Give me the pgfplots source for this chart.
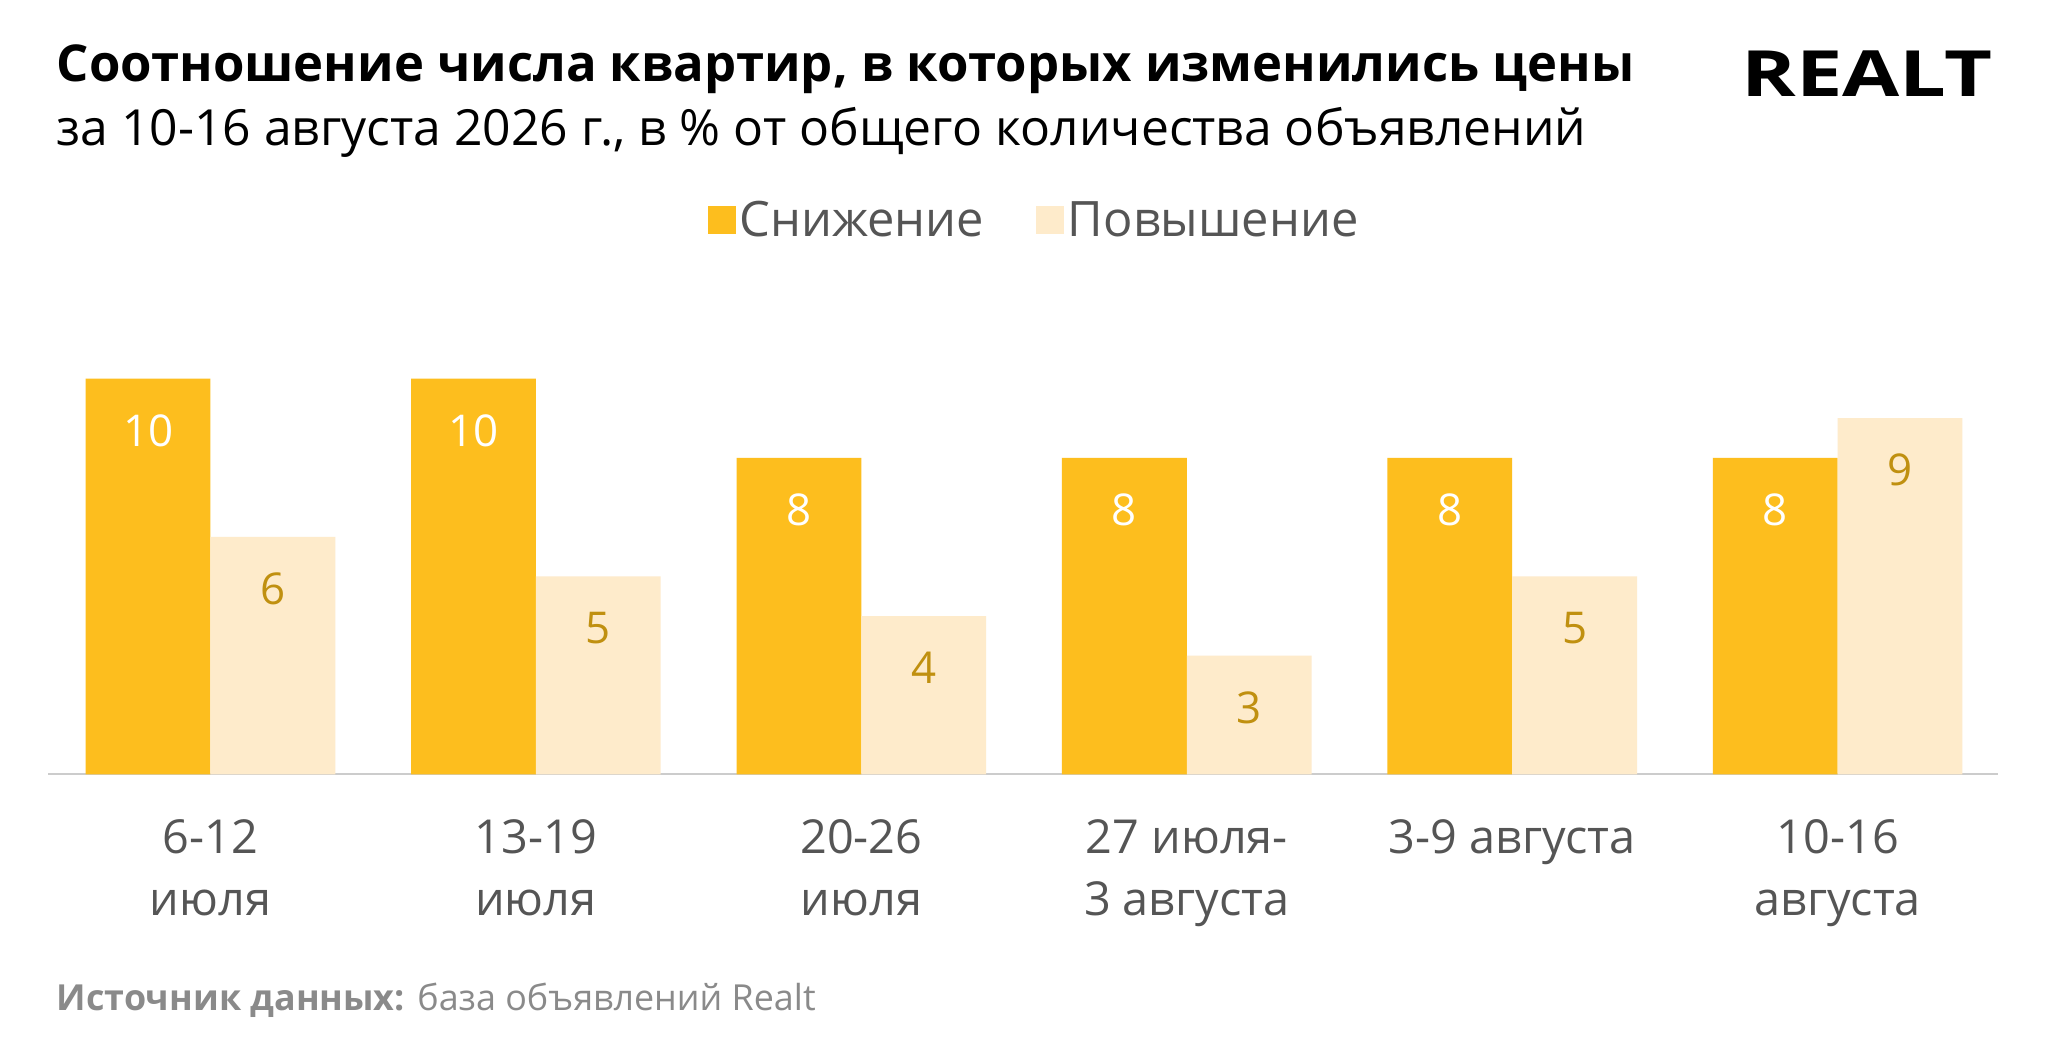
\documentclass[border=0pt]{standalone}
\usepackage{pgfplots}
\pgfplotsset{compat=1.18}
\usepackage{fontspec}
\setmainfont{Open Sans}
\definecolor{orng}{HTML}{FDBE1E}
\definecolor{lite}{HTML}{FEEBCB}
\definecolor{gold}{HTML}{C09010}
\definecolor{gr}{HTML}{555555}
\definecolor{src}{HTML}{8A8A8A}
\begin{document}
\begin{tikzpicture}
\fill[white] (0bp,0bp) rectangle (1024bp,529.6bp);
\node[anchor=west,font=\bfseries\fontsize{25.5}{29}\selectfont] at (24.8bp,495bp) {Соотношение числа квартир, в которых изменились цены};
\node[anchor=west,font=\fontsize{25}{29}\selectfont] at (24.8bp,463.6bp) {за 10-16 августа 2026 г., в \% от общего количества объявлений};
\node[anchor=east,font=\bfseries\fontsize{32}{34}\selectfont,xscale=1.3] at (1001bp,493bp) {REALT};
\node[anchor=west,font=\fontsize{18}{21}\selectfont,text=src] at (24.8bp,29.4bp) {\textbf{Источник данных:} база объявлений Realt};
\begin{axis}[at={(24.2bp,142.4bp)},anchor=south west,scale only axis,
 width=975bp,height=197.9bp,xmin=-0.498,xmax=5.494,ymin=0,ymax=10,
 ybar=0pt,bar width=62.4bp,
 axis x line*=bottom,axis y line=none,
 x axis line style={draw=black!20,line width=1pt},
 xtick={0,...,5},major tick length=0pt,
 /pgf/number format/assume math mode=true,
 xticklabels={{6-12\\июля},{13-19\\июля},{20-26\\июля},{27 июля-\\3 августа},{3-9 августа},{10-16\\августа}},
 xticklabel style={align=center,font=\fontsize{23.5}{31}\selectfont,text=gr,yshift=-19bp,anchor=north},
 legend style={at={(0.506,1.40)},anchor=center,draw=none,legend columns=2,
   font=\fontsize{24.5}{28}\selectfont,text=gr,/tikz/every even column/.append style={column sep=24bp}},
 legend image code/.code={\fill[#1] (0bp,-7bp) rectangle (14bp,7bp);},
 nodes near coords,
 every node near coord/.append style={anchor=center,yshift=-26bp,font=\fontsize{22}{25}\selectfont},
]
\addplot[fill=orng,draw=none,nodes near coords style={text=white}] coordinates {(0,10)(1,10)(2,8)(3,8)(4,8)(5,8)};
\addplot[fill=lite,draw=none,nodes near coords style={text=gold}] coordinates {(0,6)(1,5)(2,4)(3,3)(4,5)(5,9)};
\legend{Снижение,Повышение}
\end{axis}
\end{tikzpicture}
\end{document}
